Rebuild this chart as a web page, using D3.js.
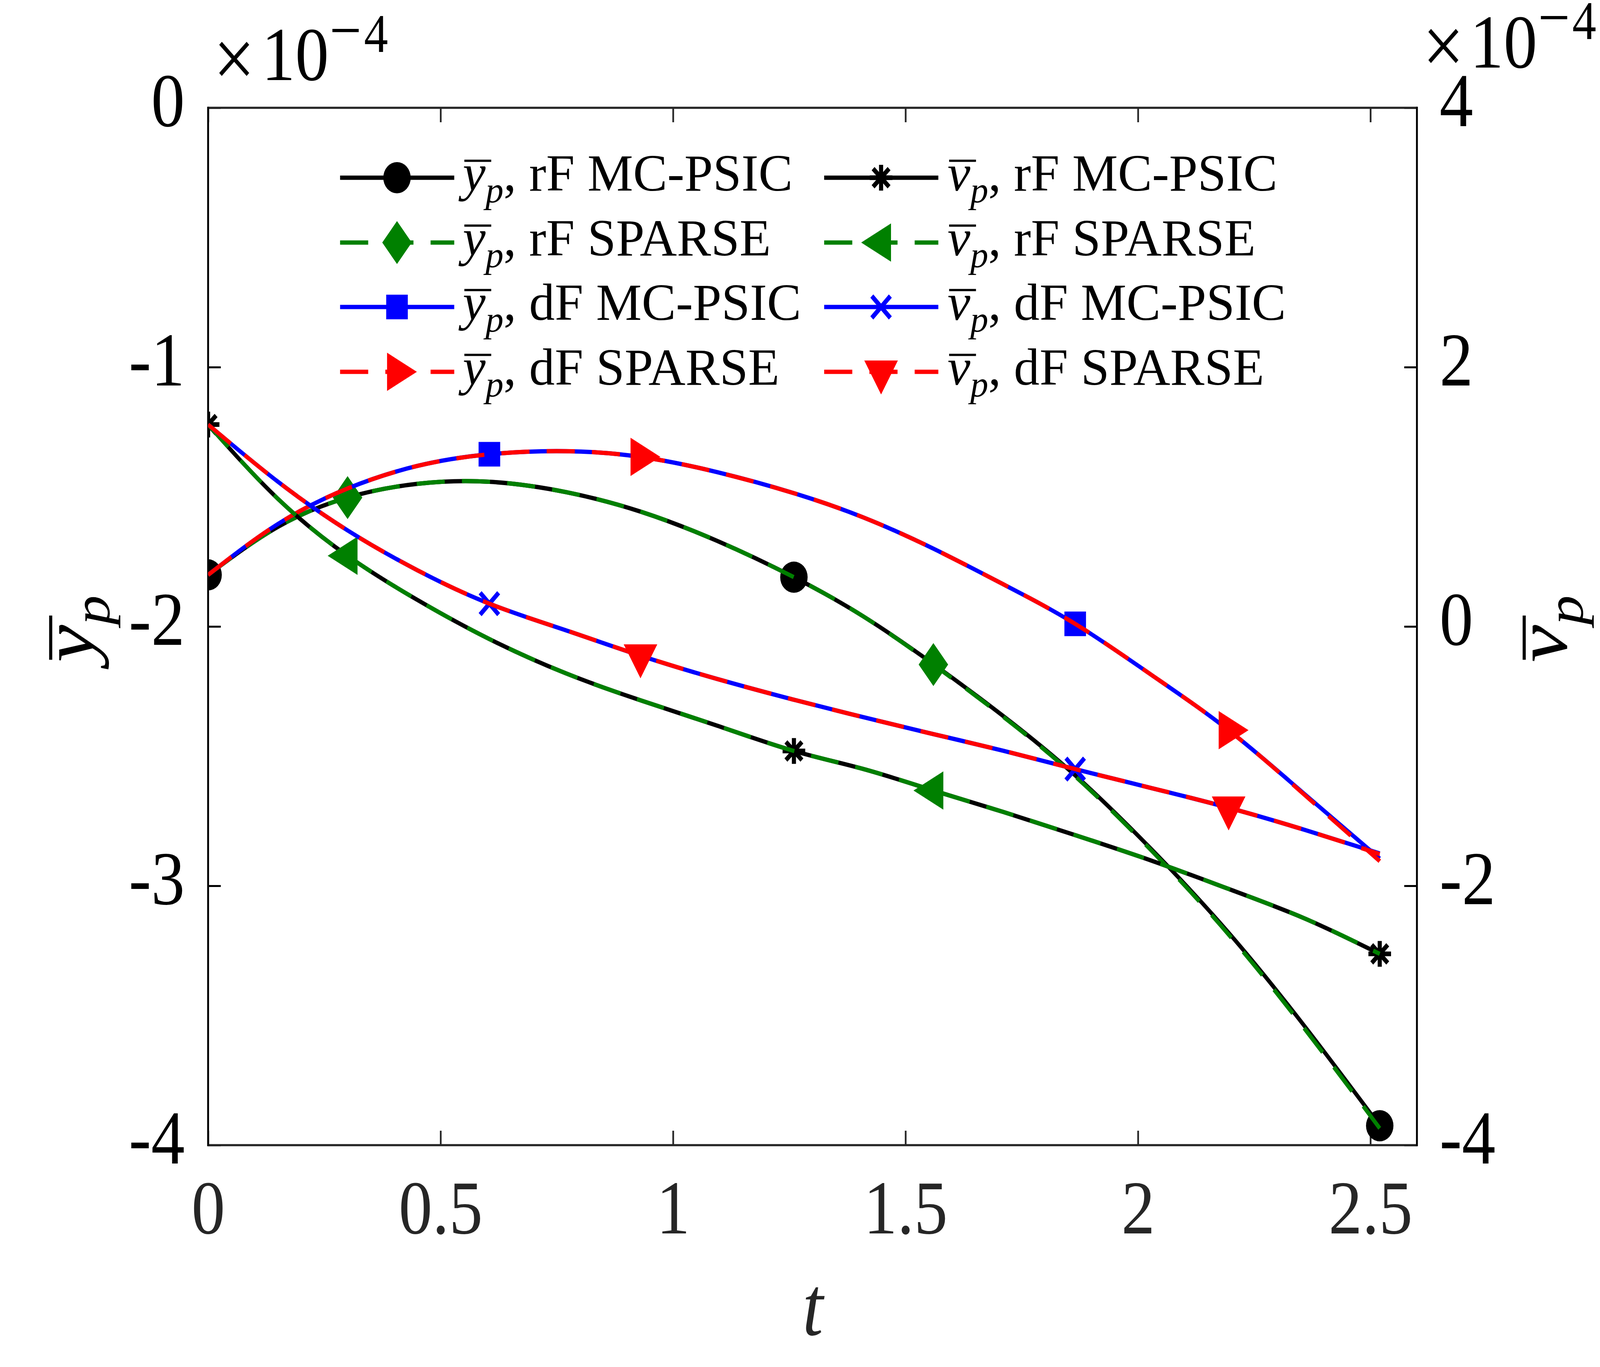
<!DOCTYPE html>
<html><head><meta charset="utf-8">
<script src="https://cdn.jsdelivr.net/npm/d3@7"></script>
<style>html,body{margin:0;padding:0;width:100%;height:100%;overflow:hidden;background:#fff}</style>
</head><body>
<script>
// ---------------- data (values in units of 1e-4) ----------------
const tVals = [0, 0.15, 0.30, 0.45, 0.605, 0.77, 0.93, 1.095, 1.26, 1.41, 1.56, 1.71, 1.865, 2.03, 2.195, 2.36, 2.52];
const ybarRF_MCPSIC = [-1.801, -1.616, -1.503, -1.450, -1.442, -1.482, -1.557, -1.670, -1.810, -1.962, -2.145, -2.345, -2.574, -2.861, -3.181, -3.545, -3.925];
const ybarRF_SPARSE = [-1.801, -1.616, -1.503, -1.450, -1.442, -1.482, -1.557, -1.670, -1.810, -1.962, -2.147, -2.348, -2.578, -2.866, -3.188, -3.555, -3.935];
const ybarDF_MCPSIC = [-1.801, -1.605, -1.468, -1.381, -1.336, -1.324, -1.346, -1.405, -1.486, -1.580, -1.700, -1.837, -1.990, -2.188, -2.400, -2.649, -2.895];
const ybarDF_SPARSE = [-1.801, -1.605, -1.468, -1.381, -1.336, -1.324, -1.346, -1.405, -1.486, -1.580, -1.700, -1.837, -1.990, -2.188, -2.400, -2.652, -2.905];
const vbarRF_MCPSIC = [1.557, 0.985, 0.545, 0.205, -0.097, -0.362, -0.569, -0.765, -0.960, -1.100, -1.265, -1.430, -1.609, -1.807, -2.024, -2.254, -2.525];
const vbarRF_SPARSE = [1.557, 0.985, 0.545, 0.205, -0.097, -0.362, -0.569, -0.765, -0.960, -1.100, -1.265, -1.430, -1.609, -1.807, -2.024, -2.254, -2.525];
const vbarDF_MCPSIC = [1.557, 1.117, 0.741, 0.434, 0.176, -0.030, -0.225, -0.405, -0.565, -0.700, -0.830, -0.958, -1.100, -1.247, -1.398, -1.570, -1.750];
const vbarDF_SPARSE = [1.557, 1.117, 0.741, 0.434, 0.176, -0.030, -0.225, -0.405, -0.565, -0.700, -0.830, -0.958, -1.100, -1.247, -1.398, -1.570, -1.755];

const markIdxA = [0, 8, 16];   // circle / asterisk
const markIdxB = [2, 10];      // diamond / left triangle
const markIdxC = [4, 12];      // square / x
const markIdxD = [6, 14];      // right triangle / down triangle

const xTicks = [0, 0.5, 1, 1.5, 2, 2.5];
const yLeftTicks = [0, -1, -2, -3, -4];
const yRightTicks = [4, 2, 0, -2, -4];
const legendLabels = [
  ["y", "p", ", rF MC-PSIC"], ["y", "p", ", rF SPARSE"], ["y", "p", ", dF MC-PSIC"], ["y", "p", ", dF SPARSE"],
  ["v", "p", ", rF MC-PSIC"], ["v", "p", ", rF SPARSE"], ["v", "p", ", dF MC-PSIC"], ["v", "p", ", dF SPARSE"]
];

// ---------------- layout ----------------
const W = 4667, H = 3500;
const L = 607, R = 4133, T = 276, B = 2932;
const FONT = "'Liberation Serif', 'Times New Roman', serif";
const FS_TICK = 196, FS_LAB = 216, FS_LEG = 134;
const TICK = 37;
const LW = 11;
const DASH = "82 50";

const x = d3.scaleLinear().domain([0, 2.6]).range([L, R]);
const yL = d3.scaleLinear().domain([-4, 0]).range([B, T]);
const yR = d3.scaleLinear().domain([-4, 4]).range([B, T]);

const svg = d3.select("body").append("svg")
  .attr("viewBox", `0 0 ${W} ${H}`).attr("preserveAspectRatio", "none")
  .style("width", "100vw").style("height", "100vh")
  .style("background", "#fff").style("display", "block");

svg.append("defs").append("clipPath").attr("id", "plotclip")
  .append("rect").attr("x", L).attr("y", T).attr("width", R - L).attr("height", B - T);

// ---------------- axes ----------------
const fmt = d => String(d);
const gxB = svg.append("g").attr("transform", `translate(0,${B})`)
  .call(d3.axisBottom(x).tickValues(xTicks).tickSizeInner(-TICK).tickSizeOuter(0).tickFormat(fmt));
const gxT = svg.append("g").attr("transform", `translate(0,${T})`)
  .call(d3.axisTop(x).tickValues(xTicks).tickSizeInner(-TICK).tickSizeOuter(0).tickFormat(""));
const gyL = svg.append("g").attr("transform", `translate(${L},0)`)
  .call(d3.axisLeft(yL).tickValues(yLeftTicks).tickSizeInner(-TICK).tickSizeOuter(0).tickPadding(68).tickFormat(fmt));
const gyR = svg.append("g").attr("transform", `translate(${R},0)`)
  .call(d3.axisRight(yR).tickValues(yRightTicks).tickSizeInner(-TICK).tickSizeOuter(0).tickPadding(66).tickFormat(fmt));

[gxB, gxT, gyL, gyR].forEach(g => g.select(".domain").remove());
[gxB, gxT].forEach(g => g.selectAll(".tick line").attr("stroke", "#262626").attr("stroke-width", 5));
[gyL, gyR].forEach(g => g.selectAll(".tick line").attr("stroke", "#000").attr("stroke-width", 5));
gxB.selectAll(".tick text").attr("y", 226).attr("dy", 0)
  .style("font-family", FONT).style("font-size", FS_TICK + "px").attr("fill", "#262626");
[gyL, gyR].forEach(g => g.selectAll(".tick text").attr("dy", 46)
  .style("font-family", FONT).style("font-size", FS_TICK + "px").attr("fill", "#000"));
[gxB, gxT, gyL, gyR].forEach(g => g.attr("font-family", null).attr("font-size", null));

// box
svg.append("line").attr("x1", L).attr("x2", R).attr("y1", B).attr("y2", B).attr("stroke", "#262626").attr("stroke-width", 5.5);
svg.append("line").attr("x1", L).attr("x2", R).attr("y1", T).attr("y2", T).attr("stroke", "#262626").attr("stroke-width", 5.5);
svg.append("line").attr("x1", L).attr("x2", L).attr("y1", T - 2.75).attr("y2", B + 2.75).attr("stroke", "#000").attr("stroke-width", 5.5);
svg.append("line").attr("x1", R).attr("x2", R).attr("y1", T - 2.75).attr("y2", B + 2.75).attr("stroke", "#000").attr("stroke-width", 5.5);

// ---------------- marker shapes ----------------
function markerPath(type) {
  const h = 87, b = 98;
  switch (type) {
    case "diamond": return "M0,-55L43,0L0,55L-43,0Z";
    case "square": return "M-31.5,-31.5H31.5V31.5H-31.5Z";
    case "right": return `M${2*h/3},0L${-h/3},${-b/2}L${-h/3},${b/2}Z`;
    case "left": return `M${-2*h/3},0L${h/3},${-b/2}L${h/3},${b/2}Z`;
    case "down": return `M0,${2*h/3}L${-b/2},${-h/3}L${b/2},${-h/3}Z`;
    case "asterisk": { const r = 33, d = 23.3; return `M0,${-r}V${r}M${-r},0H${r}M${-d},${-d}L${d},${d}M${-d},${d}L${d},${-d}`; }
    case "x": return "M-27,-28L27,28M-27,28L27,-28";
  }
  return "";
}
function drawMarker(g, type, cx, cy, color) {
  if (type === "circle") {
    g.append("circle").attr("cx", cx).attr("cy", cy).attr("r", 40).attr("fill", color);
  } else if (type === "asterisk" || type === "x") {
    g.append("path").attr("d", markerPath(type)).attr("transform", `translate(${cx},${cy})`)
      .attr("fill", "none").attr("stroke", color).attr("stroke-width", 12).attr("stroke-linecap", "butt");
  } else {
    g.append("path").attr("d", markerPath(type)).attr("transform", `translate(${cx},${cy})`).attr("fill", color);
  }
}

// ---------------- series ----------------
const series = [
  {vals: ybarRF_MCPSIC, axis: yL, color: "#000000", dash: null, marker: "circle", idx: markIdxA},
  {vals: ybarRF_SPARSE, axis: yL, color: "#008000", dash: DASH, marker: "diamond", idx: markIdxB},
  {vals: ybarDF_MCPSIC, axis: yL, color: "#0000ff", dash: null, marker: "square", idx: markIdxC},
  {vals: ybarDF_SPARSE, axis: yL, color: "#ff0000", dash: DASH, marker: "right", idx: markIdxD},
  {vals: vbarRF_MCPSIC, axis: yR, color: "#000000", dash: null, marker: "asterisk", idx: markIdxA},
  {vals: vbarRF_SPARSE, axis: yR, color: "#008000", dash: DASH, marker: "left", idx: markIdxB},
  {vals: vbarDF_MCPSIC, axis: yR, color: "#0000ff", dash: null, marker: "x", idx: markIdxC},
  {vals: vbarDF_SPARSE, axis: yR, color: "#ff0000", dash: DASH, marker: "down", idx: markIdxD}
];

const plotG = svg.append("g").attr("clip-path", "url(#plotclip)");
series.forEach(s => {
  const pts = tVals.map((t, i) => [t, s.vals[i]]);
  const line = d3.line().x(d => x(d[0])).y(d => s.axis(d[1])).curve(d3.curveNatural);
  plotG.append("path").attr("d", line(pts)).attr("fill", "none").attr("stroke", s.color)
    .attr("stroke-width", LW).attr("stroke-dasharray", s.dash).attr("stroke-linejoin", "round");
  s.idx.forEach(i => drawMarker(plotG, s.marker, x(tVals[i]), s.axis(s.vals[i]), s.color));
});

// ---------------- math text helper ----------------
function mathText(g, sym, sub, rest, fs, anchor) {
  const subShift = 0.224 * fs;
  const txt = g.append("text").attr("x", 0).attr("y", 0)
    .style("font-family", FONT).style("font-size", fs + "px").attr("fill", "#000")
    .attr("text-anchor", anchor || "start");
  txt.append("tspan").style("font-style", "italic").text(sym);
  txt.append("tspan").style("font-style", "italic").style("font-size", (0.7 * fs) + "px").attr("dy", subShift).text(sub);
  if (rest) txt.append("tspan").attr("dy", -subShift).text(rest);
  const node = txt.node();
  const s = node.getStartPositionOfChar(0), e = node.getEndPositionOfChar(0);
  g.append("line").attr("x1", s.x + 0.03 * fs).attr("x2", e.x + 0.11 * fs)
    .attr("y1", -0.57 * fs).attr("y2", -0.57 * fs).attr("stroke", "#000").attr("stroke-width", 0.042 * fs);
  return node;
}

// ---------------- legend ----------------
const legRows = [455, 621, 786, 952];
const legCols = [{x1: 992, x2: 1325, m: 1158, tx: 1350}, {x1: 2404, x2: 2737, m: 2570, tx: 2764}];
const legG = svg.append("g");
let legScale = null;
series.forEach((s, k) => {
  const col = legCols[Math.floor(k / 4)], ry = legRows[k % 4];
  legG.append("line").attr("x1", col.x1).attr("x2", col.x2).attr("y1", ry).attr("y2", ry)
    .attr("stroke", s.color).attr("stroke-width", LW).attr("stroke-dasharray", s.dash);
  drawMarker(legG, s.marker, col.m, ry, s.color);
  const lab = legendLabels[k];
  const tg = legG.append("g");
  const node = mathText(tg, lab[0], lab[1], lab[2], FS_LEG, "start");
  if (legScale === null) legScale = 962 / node.getComputedTextLength();
  tg.attr("transform", `translate(${col.tx},${ry + 33}) scale(${legScale},1)`);
});

// ---------------- axis labels ----------------
svg.append("text").attr("x", 2371).attr("y", 3418).attr("text-anchor", "middle")
  .style("font-family", FONT).style("font-size", FS_LAB + "px").style("font-style", "italic")
  .attr("fill", "#262626").text("t");
const ylabG = svg.append("g").attr("transform", "translate(271,1610) rotate(-90)");
mathText(ylabG, "y", "p", null, FS_LAB, "middle");
const vlabG = svg.append("g").attr("transform", "translate(4569,1610) rotate(-90)");
mathText(vlabG, "v", "p", null, FS_LAB, "middle");

// ---------------- exponent labels ----------------
function expLabel(timesX, timesY, tenX, tenY, minusX, fourX, supY) {
  svg.append("text").attr("x", timesX).attr("y", timesY).attr("text-anchor", "middle")
    .attr("dominant-baseline", "central")
    .style("font-family", FONT).style("font-size", "215px").attr("fill", "#000").text("\u00d7");
  svg.append("text").attr("x", tenX).attr("y", tenY).attr("text-anchor", "middle")
    .style("font-family", FONT).style("font-size", FS_TICK + "px").attr("fill", "#000").text("10");
  svg.append("text").attr("x", minusX).attr("y", supY).attr("text-anchor", "middle")
    .style("font-family", FONT).style("font-size", "165px").attr("fill", "#000").text("\u2212");
  svg.append("text").attr("x", fourX).attr("y", supY).attr("text-anchor", "middle")
    .style("font-family", FONT).style("font-size", "140px").attr("fill", "#000").text("4");
}
expLabel(683, 150, 861, 205, 1008, 1097, 133);
expLabel(4210, 117, 4386, 173, 4533, 4621, 100);
</script>
</body></html>
